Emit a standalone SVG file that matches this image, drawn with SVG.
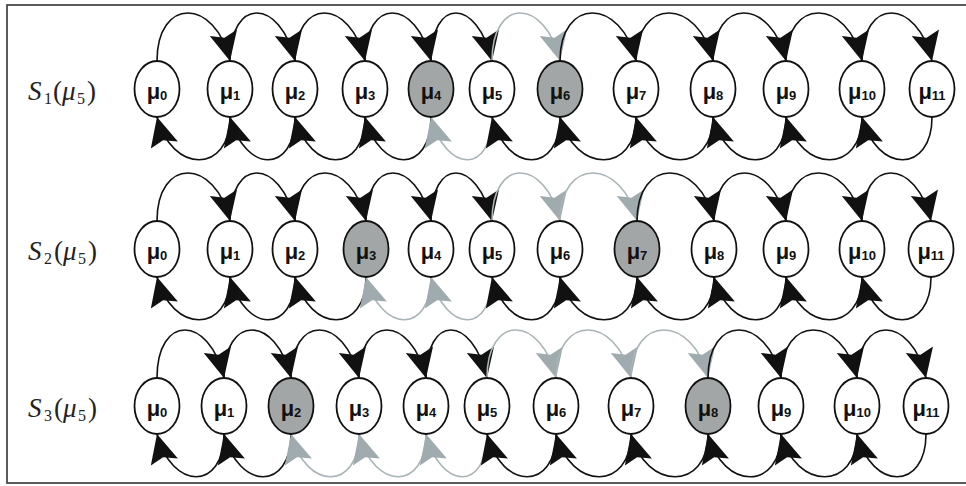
<svg xmlns="http://www.w3.org/2000/svg" width="966" height="486" viewBox="0 0 966 486">
<style>
.frame{fill:none;stroke:#333;stroke-width:1.6}
.nd{fill:#fff;stroke:#111;stroke-width:1.8}
.nd.sh{fill:#a2a6a6}
.nl{font-family:"Liberation Sans",Arial,sans-serif;font-weight:bold;font-size:22px;fill:#111;text-anchor:middle}
.nl .s{font-size:13px}
.lbl{font-family:"Liberation Serif","Times New Roman",serif;font-size:27px;fill:#222}
.lbl .i{font-style:italic}
.lbl .sb{font-size:16px}
.a{fill:none;stroke:#111;stroke-width:1.6;marker-end:url(#ah)}
.a.g{stroke:#a9b4b7;marker-end:url(#ahg)}
</style>
<defs>
<marker id="ah" markerUnits="userSpaceOnUse" viewBox="-32 -16 34 32" markerWidth="34" markerHeight="32" refX="0" refY="0" orient="auto" overflow="visible"><path d="M0,0 L-29,-14 L-24,0 L-29,14 Z" fill="#111"/></marker>
<marker id="ahg" markerUnits="userSpaceOnUse" viewBox="-32 -16 34 32" markerWidth="34" markerHeight="32" refX="0" refY="0" orient="auto" overflow="visible"><path d="M0,0 L-29,-14 L-24,0 L-29,14 Z" fill="#9fabae"/></marker>
</defs>
<rect class="frame" x="7" y="5" width="970" height="478"/>

<g id="labels">
<text class="lbl" y="100"><tspan class="i" x="28">S</tspan><tspan class="sb" x="44" y="104">1</tspan><tspan x="53" y="100">(</tspan><tspan class="i" x="62">μ</tspan><tspan class="sb" x="77" y="104">5</tspan><tspan x="87" y="100">)</tspan></text>
<text class="lbl" y="260"><tspan class="i" x="28">S</tspan><tspan class="sb" x="44" y="264">2</tspan><tspan x="54" y="260">(</tspan><tspan class="i" x="63">μ</tspan><tspan class="sb" x="78" y="264">5</tspan><tspan x="88" y="260">)</tspan></text>
<text class="lbl" y="417"><tspan class="i" x="28">S</tspan><tspan class="sb" x="44" y="421">3</tspan><tspan x="54" y="417">(</tspan><tspan class="i" x="63">μ</tspan><tspan class="sb" x="78" y="421">5</tspan><tspan x="88" y="417">)</tspan></text>
</g>

<g id="connectors">
<path class="a" d="M157,61 C157,-3 215,-3 230,61"/>
<path class="a" d="M230,61 C230,-3 280,-3 295,61"/>
<path class="a" d="M295,61 C295,-3 350,-3 365,61"/>
<path class="a" d="M365,61 C365,-3 416,-3 431,61"/>
<path class="a" d="M431,61 C431,-3 477,-3 492,61"/>
<path class="a g" d="M492,61 C492,-3 545,-3 560,61"/>
<path class="a" d="M560,61 C560,-3 621,-3 636,61"/>
<path class="a" d="M636,61 C636,-3 698,-3 713,61"/>
<path class="a" d="M713,61 C713,-3 771,-3 786,61"/>
<path class="a" d="M786,61 C786,-3 847,-3 862,61"/>
<path class="a" d="M862,61 C862,-3 917,-3 932,61"/>
<path class="a" d="M230,117 C230,174 172,174 157,117"/>
<path class="a" d="M295,117 C295,174 245,174 230,117"/>
<path class="a" d="M365,117 C365,174 310,174 295,117"/>
<path class="a" d="M431,117 C431,174 380,174 365,117"/>
<path class="a g" d="M492,117 C492,174 446,174 431,117"/>
<path class="a" d="M560,117 C560,174 507,174 492,117"/>
<path class="a" d="M636,117 C636,174 575,174 560,117"/>
<path class="a" d="M713,117 C713,174 651,174 636,117"/>
<path class="a" d="M786,117 C786,174 728,174 713,117"/>
<path class="a" d="M862,117 C862,174 801,174 786,117"/>
<path class="a" d="M932,117 C932,174 877,174 862,117"/>

<path class="a" d="M157,221 C157,157 215,157 230,221"/>
<path class="a" d="M230,221 C230,157 280,157 295,221"/>
<path class="a" d="M295,221 C295,157 351,157 366,221"/>
<path class="a" d="M366,221 C366,157 416,157 431,221"/>
<path class="a" d="M431,221 C431,157 477,157 492,221"/>
<path class="a g" d="M492,221 C492,157 545,157 560,221"/>
<path class="a g" d="M560,221 C560,157 622,157 637,221"/>
<path class="a" d="M637,221 C637,157 699,157 714,221"/>
<path class="a" d="M714,221 C714,157 771,157 786,221"/>
<path class="a" d="M786,221 C786,157 847,157 862,221"/>
<path class="a" d="M862,221 C862,157 916,157 931,221"/>
<path class="a" d="M230,277 C230,334 172,334 157,277"/>
<path class="a" d="M295,277 C295,334 245,334 230,277"/>
<path class="a" d="M366,277 C366,334 310,334 295,277"/>
<path class="a g" d="M431,277 C431,334 381,334 366,277"/>
<path class="a g" d="M492,277 C492,334 446,334 431,277"/>
<path class="a" d="M560,277 C560,334 507,334 492,277"/>
<path class="a" d="M637,277 C637,334 575,334 560,277"/>
<path class="a" d="M714,277 C714,334 652,334 637,277"/>
<path class="a" d="M786,277 C786,334 729,334 714,277"/>
<path class="a" d="M862,277 C862,334 801,334 786,277"/>
<path class="a" d="M931,277 C931,334 877,334 862,277"/>

<path class="a" d="M157,378 C157,314 209,314 224,378"/>
<path class="a" d="M224,378 C224,314 276,314 291,378"/>
<path class="a" d="M291,378 C291,314 344,314 359,378"/>
<path class="a" d="M359,378 C359,314 411,314 426,378"/>
<path class="a" d="M426,378 C426,314 472,314 487,378"/>
<path class="a g" d="M487,378 C487,314 541,314 556,378"/>
<path class="a g" d="M556,378 C556,314 616,314 631,378"/>
<path class="a g" d="M631,378 C631,314 693,314 708,378"/>
<path class="a" d="M708,378 C708,314 766,314 781,378"/>
<path class="a" d="M781,378 C781,314 842,314 857,378"/>
<path class="a" d="M857,378 C857,314 911,314 926,378"/>
<path class="a" d="M224,434 C224,491 172,491 157,434"/>
<path class="a" d="M291,434 C291,491 239,491 224,434"/>
<path class="a g" d="M359,434 C359,491 306,491 291,434"/>
<path class="a g" d="M426,434 C426,491 374,491 359,434"/>
<path class="a g" d="M487,434 C487,491 441,491 426,434"/>
<path class="a" d="M556,434 C556,491 502,491 487,434"/>
<path class="a" d="M631,434 C631,491 571,491 556,434"/>
<path class="a" d="M708,434 C708,491 646,491 631,434"/>
<path class="a" d="M781,434 C781,491 723,491 708,434"/>
<path class="a" d="M857,434 C857,491 796,491 781,434"/>
<path class="a" d="M926,434 C926,491 872,491 857,434"/>
</g>

<g id="r1-n0"><ellipse class="nd" cx="157" cy="89" rx="22.5" ry="28"/><text class="nl" x="157" y="99">μ<tspan class="s" dy="1">0</tspan></text></g>
<g id="r1-n1"><ellipse class="nd" cx="230" cy="89" rx="22.5" ry="28"/><text class="nl" x="230" y="99">μ<tspan class="s" dy="1">1</tspan></text></g>
<g id="r1-n2"><ellipse class="nd" cx="295" cy="89" rx="22.5" ry="28"/><text class="nl" x="295" y="99">μ<tspan class="s" dy="1">2</tspan></text></g>
<g id="r1-n3"><ellipse class="nd" cx="365" cy="89" rx="22.5" ry="28"/><text class="nl" x="365" y="99">μ<tspan class="s" dy="1">3</tspan></text></g>
<g id="r1-n4"><ellipse class="nd sh" cx="431" cy="89" rx="22.5" ry="28"/><text class="nl" x="431" y="99">μ<tspan class="s" dy="1">4</tspan></text></g>
<g id="r1-n5"><ellipse class="nd" cx="492" cy="89" rx="22.5" ry="28"/><text class="nl" x="492" y="99">μ<tspan class="s" dy="1">5</tspan></text></g>
<g id="r1-n6"><ellipse class="nd sh" cx="560" cy="89" rx="22.5" ry="28"/><text class="nl" x="560" y="99">μ<tspan class="s" dy="1">6</tspan></text></g>
<g id="r1-n7"><ellipse class="nd" cx="636" cy="89" rx="22.5" ry="28"/><text class="nl" x="636" y="99">μ<tspan class="s" dy="1">7</tspan></text></g>
<g id="r1-n8"><ellipse class="nd" cx="713" cy="89" rx="22.5" ry="28"/><text class="nl" x="713" y="99">μ<tspan class="s" dy="1">8</tspan></text></g>
<g id="r1-n9"><ellipse class="nd" cx="786" cy="89" rx="22.5" ry="28"/><text class="nl" x="786" y="99">μ<tspan class="s" dy="1">9</tspan></text></g>
<g id="r1-n10"><ellipse class="nd" cx="862" cy="89" rx="22.5" ry="28"/><text class="nl" x="862" y="99">μ<tspan class="s" dy="1">10</tspan></text></g>
<g id="r1-n11"><ellipse class="nd" cx="932" cy="89" rx="22.5" ry="28"/><text class="nl" x="932" y="99">μ<tspan class="s" dy="1">11</tspan></text></g>

<g id="r2-n0"><ellipse class="nd" cx="157" cy="249" rx="22.5" ry="28"/><text class="nl" x="157" y="259">μ<tspan class="s" dy="1">0</tspan></text></g>
<g id="r2-n1"><ellipse class="nd" cx="230" cy="249" rx="22.5" ry="28"/><text class="nl" x="230" y="259">μ<tspan class="s" dy="1">1</tspan></text></g>
<g id="r2-n2"><ellipse class="nd" cx="295" cy="249" rx="22.5" ry="28"/><text class="nl" x="295" y="259">μ<tspan class="s" dy="1">2</tspan></text></g>
<g id="r2-n3"><ellipse class="nd sh" cx="366" cy="249" rx="22.5" ry="28"/><text class="nl" x="366" y="259">μ<tspan class="s" dy="1">3</tspan></text></g>
<g id="r2-n4"><ellipse class="nd" cx="431" cy="249" rx="22.5" ry="28"/><text class="nl" x="431" y="259">μ<tspan class="s" dy="1">4</tspan></text></g>
<g id="r2-n5"><ellipse class="nd" cx="492" cy="249" rx="22.5" ry="28"/><text class="nl" x="492" y="259">μ<tspan class="s" dy="1">5</tspan></text></g>
<g id="r2-n6"><ellipse class="nd" cx="560" cy="249" rx="22.5" ry="28"/><text class="nl" x="560" y="259">μ<tspan class="s" dy="1">6</tspan></text></g>
<g id="r2-n7"><ellipse class="nd sh" cx="637" cy="249" rx="22.5" ry="28"/><text class="nl" x="637" y="259">μ<tspan class="s" dy="1">7</tspan></text></g>
<g id="r2-n8"><ellipse class="nd" cx="714" cy="249" rx="22.5" ry="28"/><text class="nl" x="714" y="259">μ<tspan class="s" dy="1">8</tspan></text></g>
<g id="r2-n9"><ellipse class="nd" cx="786" cy="249" rx="22.5" ry="28"/><text class="nl" x="786" y="259">μ<tspan class="s" dy="1">9</tspan></text></g>
<g id="r2-n10"><ellipse class="nd" cx="862" cy="249" rx="22.5" ry="28"/><text class="nl" x="862" y="259">μ<tspan class="s" dy="1">10</tspan></text></g>
<g id="r2-n11"><ellipse class="nd" cx="931" cy="249" rx="22.5" ry="28"/><text class="nl" x="931" y="259">μ<tspan class="s" dy="1">11</tspan></text></g>

<g id="r3-n0"><ellipse class="nd" cx="157" cy="406" rx="22.5" ry="28"/><text class="nl" x="157" y="416">μ<tspan class="s" dy="1">0</tspan></text></g>
<g id="r3-n1"><ellipse class="nd" cx="224" cy="406" rx="22.5" ry="28"/><text class="nl" x="224" y="416">μ<tspan class="s" dy="1">1</tspan></text></g>
<g id="r3-n2"><ellipse class="nd sh" cx="291" cy="406" rx="22.5" ry="28"/><text class="nl" x="291" y="416">μ<tspan class="s" dy="1">2</tspan></text></g>
<g id="r3-n3"><ellipse class="nd" cx="359" cy="406" rx="22.5" ry="28"/><text class="nl" x="359" y="416">μ<tspan class="s" dy="1">3</tspan></text></g>
<g id="r3-n4"><ellipse class="nd" cx="426" cy="406" rx="22.5" ry="28"/><text class="nl" x="426" y="416">μ<tspan class="s" dy="1">4</tspan></text></g>
<g id="r3-n5"><ellipse class="nd" cx="487" cy="406" rx="22.5" ry="28"/><text class="nl" x="487" y="416">μ<tspan class="s" dy="1">5</tspan></text></g>
<g id="r3-n6"><ellipse class="nd" cx="556" cy="406" rx="22.5" ry="28"/><text class="nl" x="556" y="416">μ<tspan class="s" dy="1">6</tspan></text></g>
<g id="r3-n7"><ellipse class="nd" cx="631" cy="406" rx="22.5" ry="28"/><text class="nl" x="631" y="416">μ<tspan class="s" dy="1">7</tspan></text></g>
<g id="r3-n8"><ellipse class="nd sh" cx="708" cy="406" rx="22.5" ry="28"/><text class="nl" x="708" y="416">μ<tspan class="s" dy="1">8</tspan></text></g>
<g id="r3-n9"><ellipse class="nd" cx="781" cy="406" rx="22.5" ry="28"/><text class="nl" x="781" y="416">μ<tspan class="s" dy="1">9</tspan></text></g>
<g id="r3-n10"><ellipse class="nd" cx="857" cy="406" rx="22.5" ry="28"/><text class="nl" x="857" y="416">μ<tspan class="s" dy="1">10</tspan></text></g>
<g id="r3-n11"><ellipse class="nd" cx="926" cy="406" rx="22.5" ry="28"/><text class="nl" x="926" y="416">μ<tspan class="s" dy="1">11</tspan></text></g>
</svg>
